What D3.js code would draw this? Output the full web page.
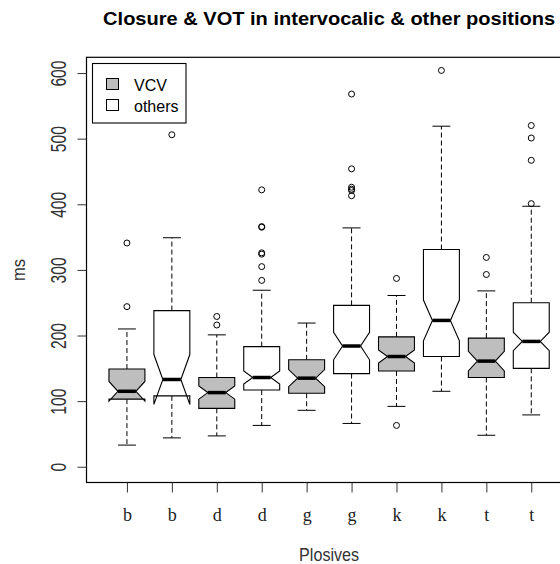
<!DOCTYPE html>
<html><head><meta charset="utf-8">
<script src="https://cdn.jsdelivr.net/npm/d3@7"></script>
<style>body{margin:0;background:#fff}svg{display:block}</style>
</head><body>
<svg id="chart" width="560" height="564"></svg>
<script>
// ---- data ----
const categories = ["b","b","d","d","g","g","k","k","t","t"];
const groups     = ["VCV","others","VCV","others","VCV","others","VCV","others","VCV","others"];
const whiskerLow  = [33, 44, 47, 63, 86, 66, 92, 115, 48, 79];
const q1          = [103, 108, 89, 117, 112, 142, 146, 168, 136, 150];
const medians     = [115, 133, 113, 136, 135, 184, 168, 223, 161, 191];
const q3          = [149, 238, 136, 183, 163, 246, 198, 331, 196, 250];
const whiskerHigh = [210, 349, 201, 269, 219, 364, 261, 519, 268, 397];
const notchLow    = [100, 95, 103, 126, 122, 163, 158, 192, 146, 177];
const notchHigh   = [130, 171, 123, 146, 148, 205, 178, 254, 176, 205];
const outliers = [
  [341, 244],
  [506],
  [229, 216],
  [422, 366, 365, 326, 324, 305, 284],
  [],
  [568, 454, 426, 423, 421, 413],
  [287, 63],
  [604],
  [319, 293],
  [520, 501, 467, 401]
];
const yTicks = [0, 100, 200, 300, 400, 500, 600];
const legendLabels = ["VCV", "others"];
const fillColors = {VCV: "#bebebe", others: "#ffffff"};

// ---- layout ----
const svg = d3.select("#chart");
const L = 86.5, R = 571.7, T = 57.3, B = 482.5;
const x = d3.scaleLinear().domain([0.1, 10.9]).range([L, R]);
const y = d3.scaleLinear().domain([-24, 624]).range([B, T]);
const unit = x(2) - x(1);
const boxHalf = 0.4 * unit, notchHalf = 0.5 * boxHalf, stapleHalf = 0.2 * unit;

const boxes = categories.map((c, i) => ({
  i, pos: i + 1, cat: c, grp: groups[i],
  lo: whiskerLow[i], q1: q1[i], med: medians[i], q3: q3[i], hi: whiskerHigh[i],
  n1: notchLow[i], n2: notchHigh[i], out: outliers[i]
}));

const g = svg.append("g");

// whiskers (dashed)
boxes.forEach(b => {
  const cx = x(b.pos);
  g.append("line").attr("x1", cx).attr("x2", cx).attr("y1", y(b.q3)).attr("y2", y(b.hi))
    .attr("stroke", "#000").attr("stroke-dasharray", "5,3");
  g.append("line").attr("x1", cx).attr("x2", cx).attr("y1", y(b.q1)).attr("y2", y(b.lo))
    .attr("stroke", "#000").attr("stroke-dasharray", "5,3");
  // staples
  [b.lo, b.hi].forEach(v => {
    g.append("line").attr("x1", cx - stapleHalf).attr("x2", cx + stapleHalf)
      .attr("y1", y(v)).attr("y2", y(v)).attr("stroke", "#000");
  });
});

// notched boxes (R bxp polygon)
boxes.forEach(b => {
  const cx = x(b.pos);
  const pts = [
    [cx - boxHalf, y(b.q1)], [cx + boxHalf, y(b.q1)], [cx + boxHalf, y(b.n1)],
    [cx + notchHalf, y(b.med)], [cx + boxHalf, y(b.n2)], [cx + boxHalf, y(b.q3)],
    [cx - boxHalf, y(b.q3)], [cx - boxHalf, y(b.n2)], [cx - notchHalf, y(b.med)],
    [cx - boxHalf, y(b.n1)]
  ];
  g.append("polygon").attr("points", pts.map(p => p.join(",")).join(" "))
    .attr("fill", fillColors[b.grp]).attr("stroke", "#000").attr("stroke-width", 1.1)
    .attr("stroke-linejoin", "miter");
  g.append("line").attr("x1", cx - notchHalf).attr("x2", cx + notchHalf)
    .attr("y1", y(b.med)).attr("y2", y(b.med)).attr("stroke", "#000").attr("stroke-width", 3.5);
  b.out.forEach(v => {
    g.append("circle").attr("cx", cx).attr("cy", y(v)).attr("r", 3)
      .attr("fill", "none").attr("stroke", "#000").attr("stroke-width", 1);
  });
});

// frame
svg.append("rect").attr("x", L).attr("y", T).attr("width", R - L).attr("height", B - T)
  .attr("fill", "none").attr("stroke", "#000").attr("stroke-width", 1.2);

// y axis
const yAxis = svg.append("g").attr("transform", `translate(${L},0)`)
  .call(d3.axisLeft(y).tickValues(yTicks).tickSize(9).tickSizeOuter(0).tickFormat(d3.format("d")));
yAxis.select(".domain").remove();
yAxis.selectAll(".tick line").attr("stroke", "#333");
yAxis.selectAll(".tick text")
  .attr("x", null).attr("dy", null).attr("y", null)
  .attr("transform", "translate(-20.5,0) rotate(-90)")
  .attr("text-anchor", "middle")
  .attr("font-family", "Liberation Sans, Arial, sans-serif")
  .attr("font-size", 22).attr("fill", "#333")
  .attr("textLength", d => 8.7 * String(d).length).attr("lengthAdjust", "spacingAndGlyphs");

// x axis
const xAxis = svg.append("g").attr("transform", `translate(0,${B})`)
  .call(d3.axisBottom(x).tickValues(d3.range(1, 11)).tickSize(10).tickSizeOuter(0)
    .tickFormat(d => categories[d - 1]));
xAxis.select(".domain").remove();
xAxis.selectAll(".tick line").attr("stroke", "#333");
xAxis.selectAll(".tick text")
  .attr("y", 38.5).attr("dy", null)
  .attr("font-family", "Liberation Serif, Times New Roman, serif")
  .attr("font-size", 18).attr("fill", "#222");

// axis titles
svg.append("text").attr("transform", `translate(25,${(T + B) / 2}) rotate(-90)`)
  .attr("text-anchor", "middle").attr("font-family", "Liberation Sans, Arial, sans-serif")
  .attr("font-size", 19).attr("fill", "#333")
  .attr("textLength", 22).attr("lengthAdjust", "spacingAndGlyphs").text("ms");
svg.append("text").attr("x", (L + R) / 2).attr("y", 561)
  .attr("text-anchor", "middle").attr("font-family", "Liberation Sans, Arial, sans-serif")
  .attr("font-size", 18.5).attr("fill", "#333")
  .attr("textLength", 60).attr("lengthAdjust", "spacingAndGlyphs").text("Plosives");

// title
svg.append("text").attr("x", (L + R) / 2).attr("y", 24.5)
  .attr("text-anchor", "middle").attr("font-family", "Liberation Sans, Arial, sans-serif")
  .attr("font-weight", "bold").attr("font-size", 18).attr("fill", "#000")
  .attr("textLength", 452).attr("lengthAdjust", "spacingAndGlyphs")
  .text("Closure & VOT in intervocalic & other positions");

// legend
const lg = svg.append("g");
lg.append("rect").attr("x", 92.5).attr("y", 63.5).attr("width", 93.5).attr("height", 59.5)
  .attr("fill", "#fff").attr("stroke", "#000").attr("stroke-width", 1.1);
legendLabels.forEach((lab, k) => {
  const yy = 78.5 + k * 21;
  lg.append("rect").attr("x", 106.5).attr("y", yy).attr("width", 12).attr("height", 11)
    .attr("fill", fillColors[lab]).attr("stroke", "#000");
  lg.append("text").attr("x", 134).attr("y", yy + 12.2)
    .attr("font-family", "Liberation Sans, Arial, sans-serif").attr("font-size", 16)
    .attr("fill", "#000").text(lab);
});
</script>
</body></html>
